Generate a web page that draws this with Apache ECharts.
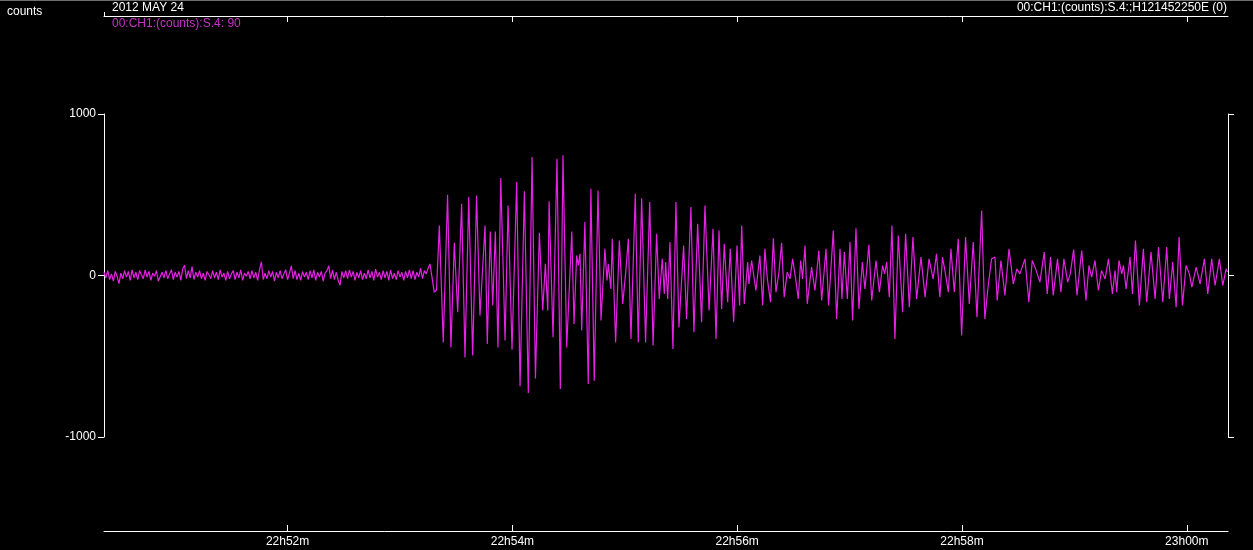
<!DOCTYPE html>
<html>
<head>
<meta charset="utf-8">
<script src="https://cdn.jsdelivr.net/npm/echarts@6/dist/echarts.min.js"></script>
<style>
html,body{margin:0;padding:0;background:#000;}
#chart{width:1253px;height:550px;}
</style>
</head>
<body>
<div id="chart"></div>
<script>
// ---- data (time in seconds after 22:50:00, values in counts) ----
const timeMin = 22;
const timeMax = 622;
const tickSeconds = [120, 240, 360, 480, 600];
const yTicks = [-1000, 0, 1000];

// pre-event noise, one reading per second starting at 22 s
const noiseStart = 22;
const noiseStep = 1;
const noiseCounts = [
  20, -15, 30, -25, 10, -35, 25, -5, -50, 15,
  -20, 30, -10, 25, -30, 35, -15, 20, -25, 30,
  5, -20, 35, -10, 25, -30, 15, -5, 30, -35,
  -45, 20, -15, 30, -20, 10, 35, -25, 20, -10,
  25, -30, 40, 65, -20, 30, -15, 55, -25, 20,
  -10, 30, -20, 15, -30, 25, 5, -20, 30, -15,
  20, -25, 35, -10, 15, -30, 25, -20, 10, 30,
  -25, 20, -15, 35, -30, 15, -5, 25, -20, 30,
  -15, 20, -30, 35, 85, -25, 15, -20, 30, -10,
  25, -35, 20, -15, 30, -20, 10, 35, -25, 15,
  60, -20, 30, -25, 15, -30, 25, -10, 20, -25,
  30, -15, 35, -30, 20, -10, 25, -35, 15, 30,
  60, -20, 35, -25, 20, -30, -60, 25, -15, 30,
  -20, 35, -10, 25, -30, 20, -15, 30, -25, 15,
  -20, 35, -15, 25, -30, 40, -10, 20, -25, 30,
  -15, 25, -30, 35, -20, 15, -25, 30, -10, 20,
  -30, 25, -15, 35, -20, 30, -25, 20, -10, 45,
  -20, 30, 10, 45, 72
];

// main shaking, peaks and troughs [seconds, counts]
const burstA = [
  [198.3,-103],[199.5,-90],[201.0,310],[203.1,-414],[205.4,500],[207.2,-445],[209.0,202],
  [210.8,-228],[212.9,444],[214.7,-507],[216.7,486],[218.8,-496],[220.9,496],
  [222.7,-248],[225.4,310],[226.6,-424],[228.2,273],[229.5,-186],[230.9,273],
  [232.3,-445],[233.8,603],[236.1,-403],[237.7,434],[239.8,-459],[242.3,579],
  [244.1,-686],[246.4,521],[248.5,-728],[250.5,734],[252.3,-637],[254.4,264],
  [256.2,-217],[257.6,72],[258.9,-217],[259.6,459],[261.7,-383],[263.8,723],
  [265.6,-703],[267.0,744],[269.0,-445],[271.7,273],[272.9,-300]
];
const burstB = [
  [274.3,124],[275.2,62],[276.1,134],[277.0,-341],[278.7,331],[280.5,-672],[281.9,537],
  [283.7,-651],[285.7,527],[287.3,-279],[289.4,165],[290.5,-31],[291.2,72],
  [292.6,-83],[293.3,227],[295.1,-414],[297.1,217],[298.9,-176],[300.5,21],
  [301.9,227],[303.3,-393],[305.6,506],[307.2,-414],[309.0,479],[311.1,-414],
  [313.3,455],[315.1,-434],[317.0,258],[318.4,-145],[320.0,103],[321.1,-114],
  [321.8,83],[322.9,-145],[324.1,207],[325.7,-455],[327.3,455],[328.9,-321],
  [331.4,186],[333.0,-269],[335.3,424],[336.9,-352],[338.9,320],[341.0,-290],
  [342.8,434],[345.0,-217],[347.1,289],[348.7,-393],[350.3,279],[351.7,-207],
  [353.1,196],[354.9,-165],[356.3,165],[358.1,-290],[359.9,186],[361.3,-186],
  [362.4,310],[363.8,-176],[365.6,83],[366.3,-52],[367.7,93]
];
const codaA = [
  [370.0,-93],[372.1,124],[373.6,-186],[374.8,165],[376.1,-21],[377.8,-165],[379.3,231],
  [380.7,-103],[382.3,21],[383.7,202],[385.1,-134],[386.7,21],[388.2,-21],
  [389.6,103],[391.2,-21],[392.6,-145],[393.9,93],[394.9,-21],[396.2,186],
  [397.4,-176],[399.7,52],[401.5,-93],[403.6,155],[405.1,-155],[407.4,165],
  [408.8,-186],[411.3,279],[413.1,-269],[414.9,165],[415.9,-145],[417.2,145],
  [418.8,-145],[420.2,207],[421.6,-279],[423.4,293],[425.0,-207],[426.8,83],
  [428.2,-83],[430.3,190],[431.8,-155],[434.1,93],[435.9,-103],[437.6,62],
  [438.7,10],[439.8,83],[441.2,-134],[442.6,310],[444.2,-393],[446.0,248],
  [448.3,-228],[449.9,258],[451.9,-196],[453.8,238],[455.8,-145],[458.1,114],
  [460.3,-134],[462.4,103]
];
const codaB = [
  [464.6,-21],[466.4,134],[468.2,-134],[469.6,114],[471.2,10],[472.7,-103],[474.1,165],
  [475.9,-103],[478.0,227],[479.8,-372],[481.9,238],[483.9,-176],[486.0,207],
  [488.0,-259],[490.5,403],[492.2,-269],[494.0,-62],[495.8,103],[497.6,114],
  [498.8,-155],[500.8,93],[502.9,-124],[505.1,165],[507.4,-52],[509.3,41],
  [510.9,10],[513.6,103],[515.7,-165],[517.5,93],[519.3,41],[521.6,-41],
  [523.9,145],[525.5,-114],[527.3,114],[528.7,-124],[531.0,103],[532.8,-103],
  [534.4,103],[536.4,-41],[537.8,10],[539.6,161],[541.4,-124],[543.9,155],
  [546.2,-155],[547.8,62],[549.2,-10],[551.0,93],[552.8,-93],[554.5,31]
];
const codaC = [
  [556.4,-21],[558.2,103],[560.3,-114],[561.7,31],[562.6,-103],[563.8,93],[565.3,10],
  [566.2,62],[567.6,-83],[569.7,114],[571.0,-114],[572.6,217],[574.7,-186],
  [576.8,165],[578.6,-165],[580.9,145],[583.1,-145],[584.9,176],[587.2,-165],
  [589.3,176],[590.7,-145],[592.5,83],[594.3,-196],[595.9,238],[597.7,-186],
  [599.6,62],[601.4,10],[602.7,-72],[605.0,52],[607.1,-52],[609.4,103],
  [611.2,-114],[613.3,103],[615.1,-62],[617.4,103],[619.2,-62],[621.0,41],[621.8,21]
];

const titleDate = '2012 MAY 24';
const titleRight = '00:CH1:(counts):S.4:;H121452250E (0)';
const traceLabel = '00:CH1:(counts):S.4: 90';
const unitLabel = 'counts';

// ---- build ----
const trace = noiseCounts.map((v, i) => [noiseStart + i * noiseStep, v])
  .concat(burstA, burstB, codaA, codaB, codaC);

function fmtTime(sec) {
  const total = 22 * 60 + 50 + Math.round(sec / 60);
  const h = Math.floor(total / 60), m = total % 60;
  return h + 'h' + String(m).padStart(2, '0') + 'm';
}

const FONT = '"Liberation Sans", Arial, sans-serif';
const WHITE = '#ffffff';
const MAG = '#e422e4';

const chart = echarts.init(document.getElementById('chart'), null, {renderer: 'canvas'});
chart.setOption({
  backgroundColor: '#000000',
  animation: false,
  grid: {left: 104, right: 25, top: 114, bottom: 113},
  graphic: [
    {type: 'rect', shape: {x: 0, y: 0, width: 1253, height: 1}, style: {fill: '#6e6e6e'}},
    {type: 'text', left: 7, top: 6, style: {text: unitLabel, fill: WHITE, font: '12px ' + FONT}},
    {type: 'text', left: 112, top: 2, style: {text: titleDate, fill: WHITE, font: '12px ' + FONT}},
    {type: 'text', right: 26, top: 2, style: {text: titleRight, fill: WHITE, font: '12px ' + FONT}},
    {type: 'text', left: 112, top: 18, style: {text: traceLabel, fill: '#c832c8', font: '12px ' + FONT}}
  ],
  xAxis: [
    {
      type: 'value', min: timeMin, max: timeMax, position: 'bottom', offset: 94,
      axisLine: {show: true, onZero: false, lineStyle: {color: WHITE, width: 1}},
      axisTick: {show: true, inside: true, length: 6, customValues: tickSeconds, lineStyle: {color: WHITE}},
      axisLabel: {show: true, customValues: tickSeconds, formatter: fmtTime, color: WHITE,
                  fontSize: 12, fontFamily: FONT, margin: 5},
      splitLine: {show: false}
    },
    {
      type: 'value', min: timeMin, max: timeMax, position: 'top', offset: 98,
      axisLine: {show: true, onZero: false, lineStyle: {color: WHITE, width: 1}},
      axisTick: {show: true, inside: true, length: 6, customValues: tickSeconds, lineStyle: {color: WHITE}},
      axisLabel: {show: false},
      splitLine: {show: false}
    },
    {
      type: 'value', min: timeMin, max: timeMax, position: 'top', offset: 98,
      axisLine: {show: false, onZero: false},
      axisTick: {show: true, inside: false, length: 4, customValues: [timeMin], lineStyle: {color: WHITE}},
      axisLabel: {show: false},
      splitLine: {show: false}
    }
  ],
  yAxis: [
    {
      type: 'value', min: -1000, max: 1000, interval: 1000, position: 'left',
      axisLine: {show: true, onZero: false, lineStyle: {color: WHITE, width: 1}},
      axisTick: {show: true, inside: false, length: 6, lineStyle: {color: WHITE}},
      axisLabel: {show: true, color: WHITE, fontSize: 12, fontFamily: FONT, margin: 8,
                  padding: [5, 0, 0, 0],
                  customValues: yTicks, formatter: v => String(v)},
      splitLine: {show: false}
    },
    {
      type: 'value', min: -1000, max: 1000, interval: 1000, position: 'right',
      axisLine: {show: true, onZero: false, lineStyle: {color: WHITE, width: 1}},
      axisTick: {show: true, inside: false, length: 6, lineStyle: {color: WHITE}},
      axisLabel: {show: false},
      splitLine: {show: false}
    }
  ],
  series: [{
    type: 'line',
    xAxisIndex: 0,
    yAxisIndex: 0,
    data: trace,
    showSymbol: false,
    symbol: 'none',
    clip: false,
    lineStyle: {color: MAG, width: 1.2},
    emphasis: {disabled: true}
  }]
});
</script>
</body>
</html>
